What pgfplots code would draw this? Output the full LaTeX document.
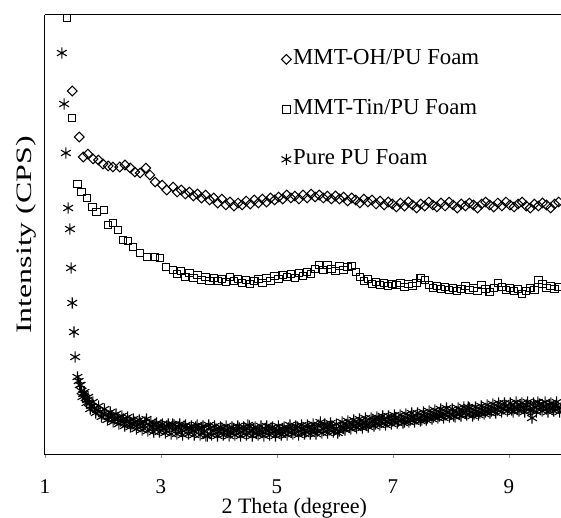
\documentclass[border=0pt]{standalone}
\usepackage{pgfplots}
\pgfplotsset{compat=1.18}
\usepackage{graphicx}
\usepackage{fontspec}
\setmainfont{Liberation Serif}

\begin{document}
\begin{tikzpicture}
\begin{axis}[
  name=ax,
  scale only axis,
  width=516pt, height=440pt,
  xmin=1, xmax=9.9,
  ymin=0, ymax=440,
  clip=false,
  axis x line*=bottom,
  axis y line*=left,
  axis line style={line width=1pt, -},
  xtick={1,3,5,7,9},
  ytick=\empty,
  tick align=outside,
  major tick length=3pt,
  x tick style={black!45, line width=0.6pt},
  /pgf/number format/assume math mode=true,
  xticklabel style={font=\fontsize{21}{25}\selectfont, anchor=base, yshift=-35pt},
  xlabel={2 Theta (degree)},
  xlabel style={font=\fontsize{22}{26}\selectfont, at={(axis description cs:0.483,-0.1335)}, anchor=base},
  ylabel={\scalebox{1.45}[1]{Intensity (CPS)}},
  ylabel style={font=\fontsize{22}{26}\selectfont, at={(axis description cs:-0.0368,0.5)}, anchor=center},
  legend cell align=left,
  legend style={draw=none, fill=none, at={(0.458,0.928)}, anchor=north west,
    font=\fontsize{22.8}{27}\selectfont, inner sep=0pt, row sep=25pt, column sep=0pt,
    nodes={inner sep=2pt, text height=16pt, text depth=5pt}},
]
% MMT-OH/PU foam
\addplot[only marks, mark=square, mark size=3.4pt, mark options={rotate=45, line width=1.05pt, fill=none}] coordinates {
(1.47,364) (1.59,318) (1.66,298) (1.74,301) (1.83,296) (1.92,295) (2.00,291) (2.09,289)
(2.17,288) (2.29,288) (2.38,290) (2.47,287) (2.55,283) (2.64,282) (2.74,287) (2.81,280)
(2.90,273) (3.02,270) (3.10,265) (3.21,268) (3.28,263) (3.35,265) (3.42,261) (3.49,263)
(3.56,259) (3.63,261) (3.70,257) (3.77,260) (3.84,255) (3.91,257) (3.98,252) (4.05,256)
(4.12,250) (4.19,253) (4.26,249) (4.33,252) (4.40,250) (4.47,254) (4.54,251) (4.61,255)
(4.68,252) (4.75,256) (4.82,253) (4.89,257) (4.96,255) (5.03,258) (5.10,256) (5.17,260)
(5.24,257) (5.31,259) (5.38,256) (5.45,260) (5.52,257) (5.59,261) (5.66,258) (5.73,260)
(5.80,257) (5.87,259) (5.94,256) (6.01,259) (6.08,256) (6.15,258) (6.22,254) (6.29,257)
(6.36,255) (6.43,252) (6.50,256) (6.57,253) (6.64,255) (6.71,251) (6.78,254) (6.85,250)
(6.92,253) (6.99,251) (7.06,248) (7.13,252) (7.20,249) (7.27,253) (7.34,250) (7.41,247)
(7.48,251) (7.55,249) (7.62,253) (7.69,250) (7.76,248) (7.83,252) (7.90,249) (7.97,253)
(8.04,250) (8.11,247) (8.18,251) (8.25,249) (8.32,252) (8.39,250) (8.46,247) (8.53,251)
(8.60,253) (8.67,250) (8.74,248) (8.81,252) (8.88,249) (8.95,253) (9.02,250) (9.09,248)
(9.16,251) (9.23,253) (9.30,249) (9.37,247) (9.44,251) (9.51,249) (9.58,252) (9.65,250)
(9.72,247) (9.79,251) (9.86,253)
};
\addlegendentry{MMT-OH/PU Foam}
% MMT-Tin/PU foam
\addplot[only marks, mark=square, mark size=3.7pt, mark options={line width=1.05pt, fill=none}] coordinates {
(1.38,437) (1.47,337) (1.56,271) (1.63,263) (1.72,257) (1.82,248) (1.89,243) (2.02,245)
(2.09,230) (2.17,232) (2.26,225) (2.35,215) (2.43,214) (2.52,208) (2.64,202) (2.76,198)
(2.90,198) (2.98,197) (3.09,188) (3.21,185) (3.28,181) (3.35,184) (3.42,178) (3.49,182)
(3.56,177) (3.63,180) (3.70,175) (3.77,178) (3.84,174) (3.91,177) (3.98,174) (4.05,176)
(4.12,173) (4.19,178) (4.26,174) (4.33,176) (4.40,172) (4.47,175) (4.54,171) (4.61,174)
(4.68,176) (4.75,172) (4.82,177) (4.89,174) (4.96,179) (5.03,176) (5.10,180) (5.17,178)
(5.24,181) (5.31,177) (5.38,182) (5.45,179) (5.52,183) (5.59,181) (5.66,186) (5.73,190)
(5.80,185) (5.87,190) (5.94,186) (6.01,184) (6.08,189) (6.15,185) (6.22,188) (6.29,189)
(6.36,183) (6.43,178) (6.50,174) (6.57,176) (6.64,171) (6.71,173) (6.78,170) (6.85,172)
(6.92,169) (6.99,171) (7.06,170) (7.13,172) (7.20,168) (7.27,171) (7.34,169) (7.41,172)
(7.48,177) (7.55,175) (7.62,170) (7.69,167) (7.76,169) (7.83,166) (7.90,168) (7.97,165)
(8.04,167) (8.11,164) (8.18,166) (8.25,169) (8.32,165) (8.39,167) (8.46,164) (8.53,170)
(8.60,166) (8.67,163) (8.74,167) (8.81,172) (8.88,168) (8.95,165) (9.02,167) (9.09,164)
(9.16,166) (9.23,161) (9.30,164) (9.37,167) (9.44,165) (9.51,175) (9.58,171) (9.65,167)
(9.72,169) (9.79,166) (9.86,168)
};
\addlegendentry{MMT-Tin/PU Foam}
% pure PU foam
\addplot[only marks, mark=asterisk, mark size=5.6pt, mark options={line width=1.1pt}] coordinates {
(1.29,402) (1.33,351) (1.36,302) (1.40,247) (1.43,226) (1.45,187) (1.47,152) (1.50,123)
(1.52,98) (1.56,78) (1.60,70) (1.63,64) (1.66,61) (1.70,57) (1.73,55) (1.76,52)
(1.80,49) (1.85,47) (1.90,45) (1.95,43) (2.00,41) (2.05,40) (2.10,38) (2.15,39)
(2.20,36) (2.25,37) (2.30,34) (2.35,36) (2.40,33) (2.45,34) (2.50,31) (2.55,33)
(2.60,30) (2.65,32) (2.70,29) (2.75,36) (2.80,30) (2.85,28) (2.90,31) (2.95,27)
(3.00,30) (3.05,26) (3.10,29) (3.15,27) (3.20,31) (3.25,26) (3.30,28) (3.35,25)
(3.40,29) (3.45,26) (3.50,27) (3.55,24) (3.60,28) (3.65,25) (3.70,27) (3.75,24)
(3.80,19) (3.85,27) (3.90,24) (3.95,26) (4.00,23) (4.05,27) (4.10,24) (4.15,25)
(4.20,22) (4.25,26) (4.30,24) (4.35,27) (4.40,23) (4.45,25) (4.50,30) (4.55,24)
(4.60,26) (4.65,22) (4.70,25) (4.75,23) (4.80,26) (4.85,24) (4.90,27) (4.95,23)
(5.00,25) (5.05,22) (5.10,26) (5.15,24) (5.20,27) (5.25,23) (5.30,25) (5.35,28)
(5.40,24) (5.45,26) (5.50,23) (5.55,27) (5.60,25) (5.65,27) (5.70,24) (5.75,33)
(5.80,26) (5.85,28) (5.90,25) (5.95,29) (6.00,26) (6.05,22) (6.10,29) (6.15,27)
(6.20,30) (6.25,28) (6.30,31) (6.35,29) (6.40,32) (6.45,30) (6.50,33) (6.55,30)
(6.60,32) (6.65,34) (6.70,31) (6.75,35) (6.80,33) (6.85,36) (6.90,33) (6.95,35)
(7.00,34) (7.05,37) (7.10,34) (7.15,36) (7.20,33) (7.25,37) (7.30,35) (7.35,38)
(7.40,36) (7.45,37) (7.50,35) (7.55,39) (7.60,37) (7.65,40) (7.70,38) (7.75,41)
(7.80,39) (7.85,42) (7.90,40) (7.95,43) (8.00,41) (8.05,39) (8.10,43) (8.15,41)
(8.20,44) (8.25,42) (8.30,48) (8.35,43) (8.40,41) (8.45,44) (8.50,42) (8.55,45)
(8.60,43) (8.65,46) (8.70,44) (8.75,47) (8.80,45) (8.85,48) (8.90,46) (8.95,49)
(9.00,47) (9.05,45) (9.10,48) (9.15,46) (9.20,49) (9.25,47) (9.30,50) (9.35,46)
(9.40,37) (9.45,48) (9.50,53) (9.55,47) (9.60,49) (9.65,46) (9.70,50) (9.75,47)
(9.80,49) (9.85,48) (9.90,47)
(1.58,74) (1.615,70) (1.645,58) (1.68,63) (1.715,52) (1.745,58) (1.78,46) (1.825,53)
(1.875,42) (1.925,49) (1.975,38) (2.025,46) (2.075,35) (2.125,43) (2.175,33) (2.225,41)
(2.275,31) (2.325,39) (2.375,29) (2.425,38) (2.475,28) (2.525,36) (2.575,26) (2.625,35)
(2.675,25) (2.725,33) (2.775,24) (2.825,33) (2.875,23) (2.925,32) (2.975,23) (3.025,31)
(3.075,22) (3.125,31) (3.175,21) (3.225,30) (3.275,21) (3.325,31) (3.375,20) (3.425,30)
(3.475,21) (3.525,29) (3.575,20) (3.625,30) (3.675,20) (3.725,29) (3.775,19) (3.825,30)
(3.875,20) (3.925,29) (3.975,19) (4.025,28) (4.075,20) (4.125,29) (4.175,19) (4.225,28)
(4.275,20) (4.325,29) (4.375,19) (4.425,28) (4.475,20) (4.525,29) (4.575,19) (4.625,28)
(4.675,20) (4.725,29) (4.775,19) (4.825,29) (4.875,20) (4.925,28) (4.975,19) (5.025,29)
(5.075,20) (5.125,28) (5.175,20) (5.225,30) (5.275,21) (5.325,29) (5.375,20) (5.425,30)
(5.475,21) (5.525,30) (5.575,21) (5.625,31) (5.675,21) (5.725,30) (5.775,22) (5.825,31)
(5.875,22) (5.925,32) (5.975,23) (6.025,31) (6.075,24) (6.125,33) (6.175,25) (6.225,34)
(6.275,26) (6.325,35) (6.375,27) (6.425,36) (6.475,27) (6.525,37) (6.575,28) (6.625,37)
(6.675,29) (6.725,38) (6.775,30) (6.825,39) (6.875,30) (6.925,39) (6.975,31) (7.025,40)
(7.075,32) (7.125,40) (7.175,32) (7.225,41) (7.275,33) (7.325,42) (7.375,33) (7.425,42)
(7.475,34) (7.525,43) (7.575,35) (7.625,44) (7.675,36) (7.725,45) (7.775,37) (7.825,46)
(7.875,37) (7.925,47) (7.975,38) (8.025,46) (8.075,38) (8.125,47) (8.175,39) (8.225,48)
(8.275,40) (8.325,47) (8.375,39) (8.425,48) (8.475,40) (8.525,49) (8.575,41) (8.625,50)
(8.675,42) (8.725,51) (8.775,42) (8.825,52) (8.875,43) (8.925,52) (8.975,44) (9.025,52)
(9.075,43) (9.125,53) (9.175,44) (9.225,52) (9.275,43) (9.325,53) (9.375,44) (9.425,52)
(9.475,43) (9.525,51) (9.575,44) (9.625,53) (9.675,43) (9.725,52) (9.775,44) (9.825,53)
(9.875,43)
};
\addlegendentry{Pure PU Foam}
% top frame line
\draw[line width=1pt] (rel axis cs:0,1) -- (rel axis cs:1,1);
\end{axis}
\pgfresetboundingbox
\path[use as bounding box] ([xshift=-45pt,yshift=-63pt]ax.south west) rectangle ([yshift=15pt]ax.north east);
\end{tikzpicture}
\end{document}
